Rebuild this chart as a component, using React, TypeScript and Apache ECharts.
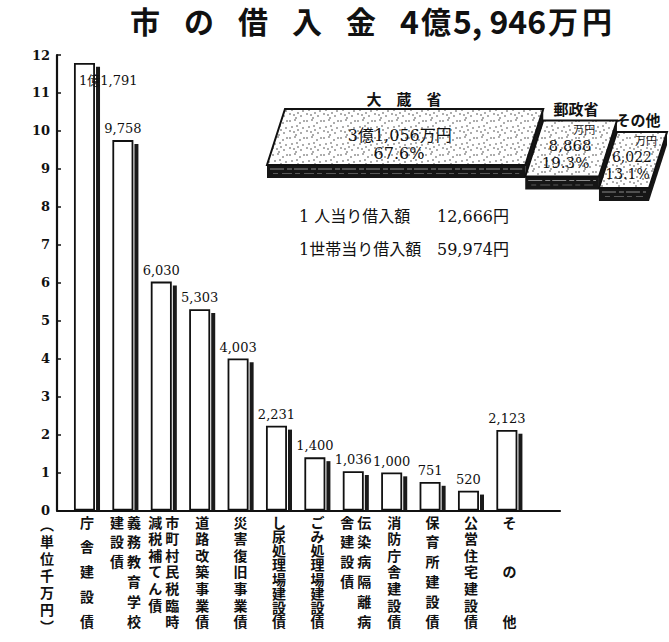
import React, { useEffect, useRef } from 'react';
import * as echarts from 'echarts';

// ---- data ----
const categories: string[][] = [
  ['庁舎建設債'],
  ['義務教育学校', '建設債'],
  ['市町村民税臨時', '減税補てん債'],
  ['道路改築事業債'],
  ['災害復旧事業債'],
  ['し尿処理場建設債'],
  ['ごみ処理場建設債'],
  ['伝染病隔離病', '舎建設債'],
  ['消防庁舎建設債'],
  ['保育所建設債'],
  ['公営住宅建設債'],
  ['その他'],
];
// 万円
const amounts: number[] = [11791, 9758, 6030, 5303, 4003, 2231, 1400, 1036, 1000, 751, 520, 2123];
const yTickMax = 12;
const titleText = '市の借入金';
const totalAmount = 45946;
const unitLabel = '︵単位千万円︶';

const sourceNames: string[] = ['大蔵省', '郵政省', 'その他'];
const sourceAmounts: number[] = [31056, 8868, 6022];
const sourceShares: number[] = [67.6, 19.3, 13.1];

const perLabels: string[] = ['1 人当り借入額', '1世帯当り借入額'];
const perValues: number[] = [12666, 59974];

// ---- helpers ----
const CJK = "'Noto Sans CJK JP'";
const SERIF = "'DejaVu Serif', 'Noto Sans CJK JP'";
const INK = '#111';

const comma = (v: number) => String(v).replace(/\B(?=(\d{3})+(?!\d))/g, ',');
const fmtOku = (v: number) =>
  v >= 10000 ? `${Math.floor(v / 10000)}億${comma(v % 10000)}` : comma(v);

const DOTS: number[][] = [
  [1, 2], [6, 1], [11, 4], [14, 9], [3, 8], [8, 7], [5, 13], [12, 14], [9, 11], [1, 12], [15, 2], [7, 16],
];

function makeDots(): HTMLCanvasElement {
  const c = document.createElement('canvas');
  c.width = 17;
  c.height = 17;
  const ctx = c.getContext('2d')!;
  ctx.fillStyle = '#fff';
  ctx.fillRect(0, 0, 17, 17);
  ctx.fillStyle = '#333';
  for (const [x, y] of DOTS) {
    ctx.beginPath();
    ctx.arc(x, y, 0.75, 0, Math.PI * 2);
    ctx.fill();
  }
  return c;
}

export default function App() {
  const ref = useRef<HTMLDivElement>(null);

  useEffect(() => {
    const chart = echarts.init(ref.current!, null, { renderer: 'svg' });
    const pattern = { image: makeDots(), repeat: 'repeat' };

    // category labels (vertical, right-to-left columns)
    const rich: any = {};
    categories.forEach((cols, i) => {
      const n = Math.max(...cols.map((c) => [...c].length));
      const p = n > 1 ? 100 / (n - 1) : 20;
      rich['r' + i] = {
        fontSize: 14,
        fontWeight: 'bold',
        fontFamily: CJK,
        color: INK,
        lineHeight: p,
        verticalAlign: 'top',
        width: 17,
        align: 'center',
      };
    });
    const catFormatter = (_v: string, idx: number) => {
      const cols = categories[idx].map((c) => [...c]);
      const n = Math.max(...cols.map((c) => c.length));
      const order = [...cols].reverse();
      const lines: string[] = [];
      for (let k = 0; k < n; k++) {
        lines.push(order.map((col) => `{r${idx}|${col[k] ?? '　'}}`).join(''));
      }
      return lines.join('\n');
    };

    // slabs data
    const cum: number[] = [];
    sourceShares.reduce((acc, s, i) => {
      cum[i] = acc;
      return acc + s;
    }, 0);
    const slabData = sourceShares.map((s, i) => [cum[i], s, sourceAmounts[i], i]);

    const STEP = 11.5;
    const H = 56;
    const SKEW = 18;
    const DEPTH = 13;

    const txt = (x: number, y: number, text: string, fontSize: number, extra: any = {}) => ({
      type: 'text',
      x,
      y,
      style: {
        text,
        fontSize,
        fontFamily: SERIF,
        fill: INK,
        align: 'center',
        textAlign: 'center',
        verticalAlign: 'middle',
        textVerticalAlign: 'middle',
        ...extra,
      },
    });

    const renderSlab = (params: any, api: any) => {
      const i = params.dataIndex;
      const start = api.value(0);
      const share = api.value(1);
      const amount = api.value(2);
      const p0 = api.coord([start, 1]);
      const p1 = api.coord([start + share, 1]);
      const t = p0[1] + i * STEP;
      const x0 = p0[0];
      const x1 = p1[0];
      const b = t + H;
      const midX = (dy: number) => (x0 + x1) / 2 - (SKEW * dy) / H;
      const children: any[] = [];
      children.push({
        type: 'polygon',
        shape: { points: [[x0 - SKEW, b], [x1 - SKEW, b], [x1 - SKEW, b + DEPTH], [x0 - SKEW, b + DEPTH]] },
        style: { fill: '#161616' },
      });
      children.push({
        type: 'polygon',
        shape: { points: [[x1, t], [x1, t + DEPTH], [x1 - SKEW, b + DEPTH], [x1 - SKEW, b]] },
        style: { fill: '#161616' },
      });
      children.push({
        type: 'line',
        shape: { x1: x0 - SKEW + 3, y1: b + 4, x2: x1 - SKEW - 3, y2: b + 4 },
        style: { stroke: '#aaa', lineWidth: 0.8, lineDash: [14, 3, 5, 2] },
      });
      children.push({
        type: 'line',
        shape: { x1: x0 - SKEW + 6, y1: b + 8.5, x2: x1 - SKEW - 6, y2: b + 8.5 },
        style: { stroke: '#888', lineWidth: 0.6, lineDash: [5, 4, 10, 3] },
      });
      children.push({
        type: 'polygon',
        shape: { points: [[x0, t], [x1, t], [x1 - SKEW, b], [x0 - SKEW, b]] },
        style: { fill: pattern, stroke: INK, lineWidth: 2 },
      });
      const name = i === 0 ? sourceNames[i].split('').join('　') : sourceNames[i];
      children.push(
        txt(midX(0) - 4 + (i === 0 ? -6 : 0), t - 11 - i, name, 15, { fontFamily: CJK, fontWeight: 'bold' })
      );
      if (amount >= 10000) {
        children.push(txt(midX(26) - 6, t + 26, fmtOku(amount) + '万円', 16));
        children.push(txt(midX(44) - 1, t + 44, sourceShares[i].toFixed(1) + '%', 16));
      } else {
        const fs = i === 1 ? 15 : 14;
        children.push(txt(midX(9) + 7, t + 9.5, '万円', 11));
        children.push(txt(midX(25) - 2, t + 25, comma(amount), fs));
        children.push(txt(midX(42) - 1, t + 42, sourceShares[i].toFixed(1) + '%', fs));
      }
      return { type: 'group', children };
    };

    // title rich
    const totalStr = fmtOku(totalAmount).replace(',', ', ') + '万円';
    const tokens = totalStr.match(/[0-9, ]+|./g) || [];
    const titleRich =
      [...titleText].map((c) => `{c|${c}}`).join('') +
      tokens.map((tk) => (/[0-9]/.test(tk) ? `{n|${tk}}` : `{k|${tk}}`)).join('');

    const barData = amounts.map((v, i) =>
      i === 0
        ? {
            value: v / 1000,
            label: { position: [5, 11], align: 'left', verticalAlign: 'top' },
          }
        : v / 1000
    );
    const shadowData = amounts.map((v) => v / 1000 - 0.1);

    const option: any = {
      animation: false,
      backgroundColor: '#fff',
      grid: [
        { left: 67.8, width: 460.8, top: 55, height: 455.5 },
        { left: 57, width: 503, top: 55, height: 455.5 },
        { left: 285, width: 382, top: 109, height: 50 },
      ],
      xAxis: [
        {
          gridIndex: 0,
          type: 'category',
          data: categories.map((c) => c.join('')),
          axisLine: { show: false },
          axisTick: { show: false },
          axisLabel: { interval: 0, margin: 4, formatter: catFormatter, rich, hideOverlap: false },
        },
        {
          gridIndex: 1,
          type: 'value',
          min: 0,
          max: 1,
          axisLine: { show: true, onZero: false, lineStyle: { color: INK, width: 2.2 } },
          axisTick: { show: false },
          axisLabel: { show: false },
          splitLine: { show: false },
        },
        { gridIndex: 2, type: 'value', min: 0, max: 100, show: false },
      ],
      yAxis: [
        { gridIndex: 0, type: 'value', min: 0, max: yTickMax, interval: 1, show: false },
        {
          gridIndex: 1,
          type: 'value',
          min: 0,
          max: yTickMax,
          interval: 1,
          axisLine: { show: true, lineStyle: { color: INK, width: 2.2 } },
          axisTick: { show: true, inside: true, length: 4, lineStyle: { color: INK, width: 1.5 } },
          axisLabel: { margin: 7, fontFamily: SERIF, fontWeight: 'bold', fontSize: 13, color: INK },
          splitLine: { show: false },
        },
        { gridIndex: 2, type: 'value', min: 0, max: 1, show: false },
      ],
      graphic: [
        {
          type: 'text',
          x: 130,
          y: 4,
          style: {
            text: titleRich,
            rich: {
              c: { fontSize: 30, fontWeight: 'bold', fontFamily: CJK, width: 54, align: 'left', fill: INK, color: INK },
              n: { fontSize: 32, fontWeight: 'bold', fontFamily: "'Liberation Sans Narrow', 'Noto Sans CJK JP'", fill: INK, color: INK },
              k: { fontSize: 30, fontWeight: 'bold', fontFamily: CJK, width: 34, align: 'center', fill: INK, color: INK },
            },
            verticalAlign: 'top',
            textVerticalAlign: 'top',
          },
        },
        {
          type: 'text',
          x: 47,
          y: 515,
          style: {
            text: [...unitLabel].join('\n'),
            fontSize: 14,
            fontWeight: 'bold',
            fontFamily: CJK,
            lineHeight: 17,
            fill: INK,
            align: 'center',
            textAlign: 'center',
            verticalAlign: 'top',
            textVerticalAlign: 'top',
          },
        },
        ...perLabels.map((l, i) => ({
          type: 'text',
          x: 299,
          y: 216 + i * 33,
          style: {
            text: `{a|${l}}{b|${comma(perValues[i])}円}`,
            rich: {
              a: { fontSize: 16, fontFamily: SERIF, width: 138, align: 'left', fill: INK, color: INK },
              b: { fontSize: 16, fontFamily: SERIF, fill: INK, color: INK },
            },
            align: 'left',
            textAlign: 'left',
            verticalAlign: 'middle',
            textVerticalAlign: 'middle',
          },
        })),
      ],
      series: [
        {
          type: 'bar',
          xAxisIndex: 0,
          yAxisIndex: 0,
          data: barData,
          barWidth: 21,
          barGap: '5%',
          z: 3,
          itemStyle: { color: '#fff', borderColor: INK, borderWidth: 1.8 },
          label: {
            show: true,
            position: 'top',
            distance: 5,
            fontFamily: SERIF,
            fontSize: 13,
            color: INK,
            formatter: (p: any) => fmtOku(amounts[p.dataIndex]),
          },
        },
        {
          type: 'bar',
          xAxisIndex: 0,
          yAxisIndex: 0,
          data: shadowData,
          barWidth: 4,
          barGap: '5%',
          z: 2,
          silent: true,
          itemStyle: { color: '#1a1a1a' },
        },
        {
          type: 'custom',
          xAxisIndex: 2,
          yAxisIndex: 2,
          data: slabData,
          renderItem: renderSlab,
          silent: true,
          clip: false,
        },
      ],
    };
    chart.setOption(option);
    return () => chart.dispose();
  }, []);

  return (
    <div
      ref={ref}
      style={{ width: 669, height: 642, position: 'absolute', left: 0, top: 0, background: '#fff' }}
    />
  );
}
